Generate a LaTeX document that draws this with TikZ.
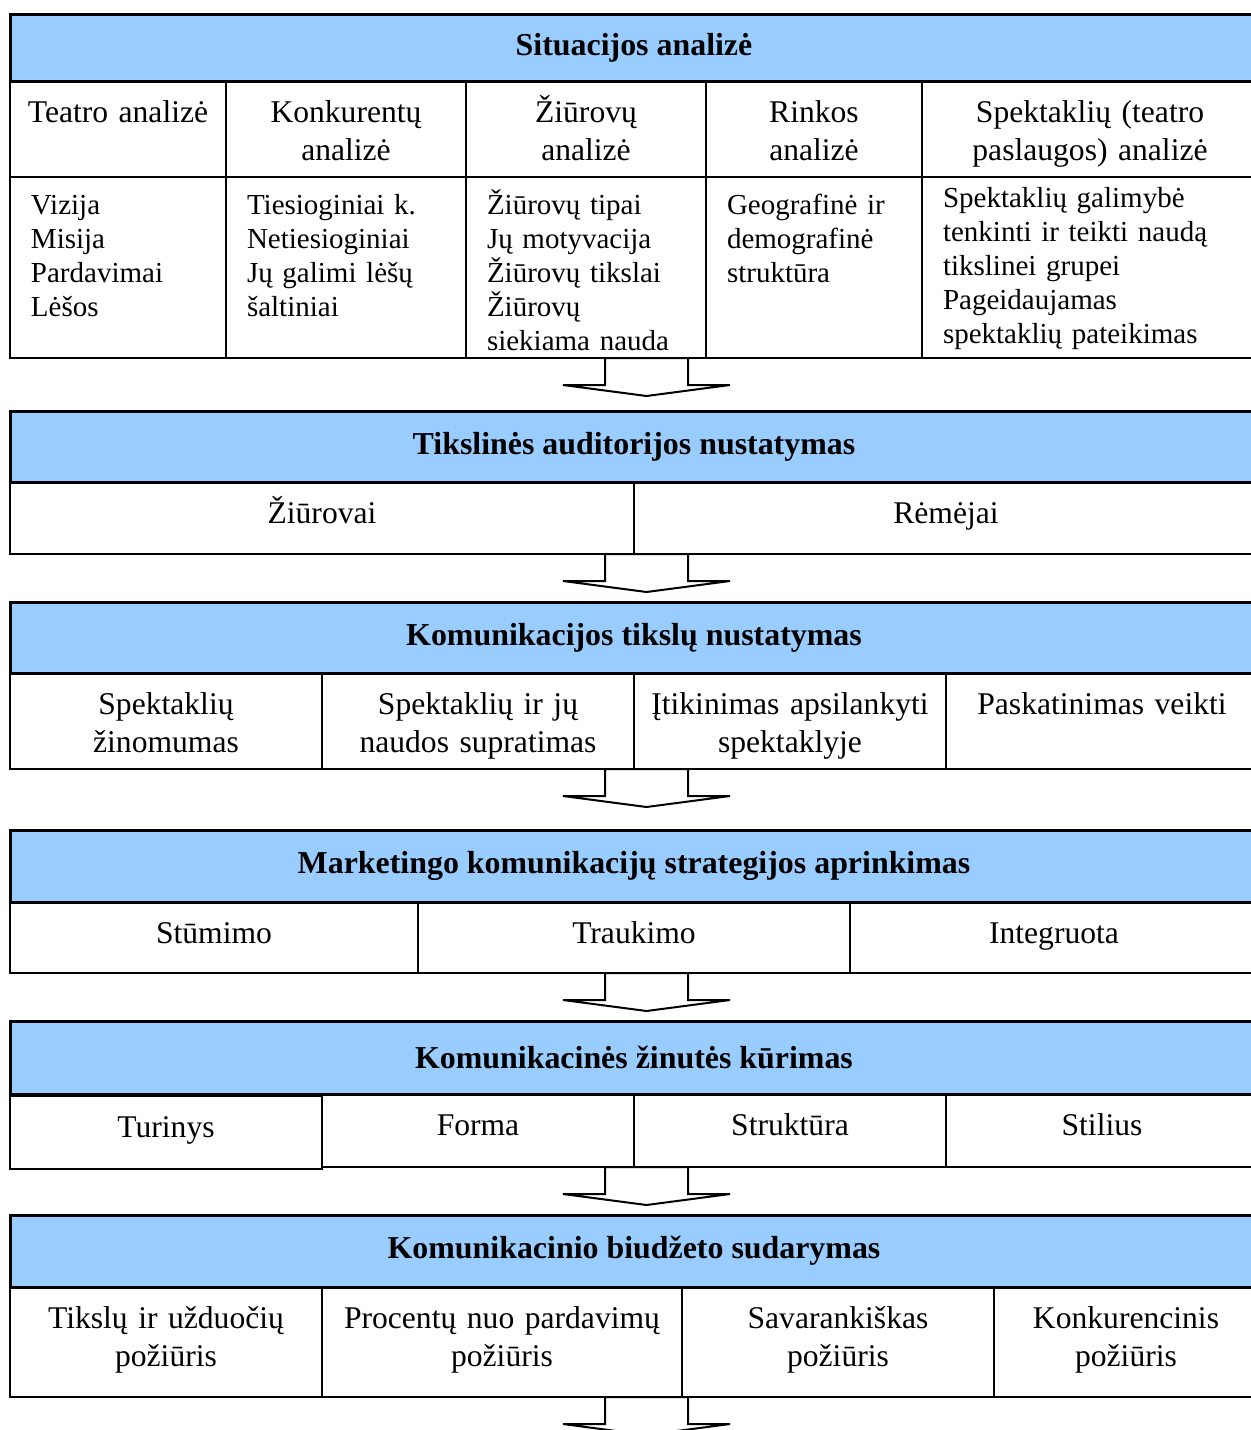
\documentclass[tikz,border=0pt]{standalone}
\usepackage{fontspec}
\setmainfont{Liberation Serif}
\usetikzlibrary{positioning}
\definecolor{headblue}{RGB}{153,204,255}

\begin{document}
\begin{tikzpicture}[
		x=0.5pt, y=-0.5pt,
		head/.style={draw, line width=1.5pt, fill=headblue, outer sep=0pt, inner sep=0pt, anchor=north west, minimum width=624pt, font=\bfseries\fontsize{15.95}{18}\selectfont},
		cell/.style={draw, line width=0.9pt, outer sep=0pt, inner sep=0pt, anchor=north west},
		sub/.style={anchor=base, yshift=-20.5pt, inner sep=0pt, text width=180pt, align=center, font=\fontsize{15.8}{19}\selectfont},
		lst/.style={anchor=base, yshift=-18.5pt, inner sep=0pt, align=left, font=\fontsize{14.5}{17}\selectfont},
		arrowshape/.style={draw, line width=1pt, line join=miter},
		blockarrow/.pic={
			\draw[arrowshape] (0,0) -- (-41.5,0) -- (-41.5,27) -- (-83.5,27) -- (0,38) -- (83.5,27) -- (41.5,27) -- (41.5,0) -- cycle;
		},
	]
	\useasboundingbox (0,0) rectangle (1250,1430);
	\coordinate (mid) at (646.5,0);

	% situacijos analize
	\node[head, minimum height=33.5pt] (situacija) at (10,14) {Situacijos analizė};
	\node[cell, minimum width=108pt, minimum height=48pt, label={[sub]north:Teatro analizė}] (teatras) at (situacija.south west) {};
	\node[cell, minimum width=120pt, minimum height=48pt, right=0pt of teatras, label={[sub]north:Konkurentų\\analizė}] (konkurentai) {};
	\node[cell, minimum width=120pt, minimum height=48pt, right=0pt of konkurentai, label={[sub]north:Žiūrovų\\analizė}] (ziurovai) {};
	\node[cell, minimum width=108pt, minimum height=48pt, right=0pt of ziurovai, label={[sub]north:Rinkos\\analizė}] (rinka) {};
	\node[cell, minimum width=168pt, minimum height=48pt, right=0pt of rinka, label={[sub]north:Spektaklių (teatro\\paslaugos) analizė}] (spektakliai) {};

	\node[cell, minimum width=108pt, minimum height=90.5pt, below=0pt of teatras, label={[lst, text width=87pt]north:Vizija\\Misija\\Pardavimai\\Lėšos}] (teatrasSar) {};
	\node[cell, minimum width=120pt, minimum height=90.5pt, below=0pt of konkurentai, label={[lst, text width=99pt]north:Tiesioginiai k.\\Netiesioginiai\\Jų galimi lėšų\\šaltiniai}] (konkurentaiSar) {};
	\node[cell, minimum width=120pt, minimum height=90.5pt, below=0pt of ziurovai, label={[lst, text width=99pt]north:Žiūrovų tipai\\Jų motyvacija\\Žiūrovų tikslai\\Žiūrovų\\siekiama nauda}] (ziurovaiSar) {};
	\node[cell, minimum width=108pt, minimum height=90.5pt, below=0pt of rinka, label={[lst, text width=87pt]north:Geografinė ir\\demografinė\\struktūra}] (rinkaSar) {};
	\node[cell, minimum width=168pt, minimum height=90.5pt, below=0pt of spektakliai, label={[lst, text width=147pt, yshift=3.5pt]north:Spektaklių galimybė\\tenkinti ir teikti naudą\\tikslinei grupei\\Pageidaujamas\\spektaklių pateikimas}] (spektakliaiSar) {};
	\pic at (mid |- ziurovaiSar.south) {blockarrow};

	% tiksline auditorija
	\node[head, minimum height=35.5pt] (auditorija) at (10,411) {Tikslinės auditorijos nustatymas};
	\node[cell, minimum width=312pt, minimum height=36pt, label={[sub]north:Žiūrovai}] (ziurovaiAud) at (auditorija.south west) {};
	\node[cell, minimum width=312pt, minimum height=36pt, right=0pt of ziurovaiAud, label={[sub]north:Rėmėjai}] (remejai) {};
	\pic at (mid |- ziurovaiAud.south) {blockarrow};

	% komunikacijos tikslai
	\node[head, minimum height=35.5pt] (tikslai) at (10,602) {Komunikacijos tikslų nustatymas};
	\node[cell, minimum width=156pt, minimum height=48pt, label={[sub]north:Spektaklių\\žinomumas}] (zinomumas) at (tikslai.south west) {};
	\node[cell, minimum width=156pt, minimum height=48pt, right=0pt of zinomumas, label={[sub]north:Spektaklių ir jų\\naudos supratimas}] (supratimas) {};
	\node[cell, minimum width=156pt, minimum height=48pt, right=0pt of supratimas, label={[sub]north:Įtikinimas apsilankyti\\spektaklyje}] (itikinimas) {};
	\node[cell, minimum width=156pt, minimum height=48pt, right=0pt of itikinimas, label={[sub]north:Paskatinimas veikti}] (paskatinimas) {};
	\pic at (mid |- zinomumas.south) {blockarrow};

	% strategija
	\node[head, minimum height=36pt] (strategija) at (10,830) {Marketingo komunikacijų strategijos aprinkimas};
	\node[cell, minimum width=204pt, minimum height=35.5pt, label={[sub]north:Stūmimo}] (stumimo) at (strategija.south west) {};
	\node[cell, minimum width=216pt, minimum height=35.5pt, right=0pt of stumimo, label={[sub]north:Traukimo}] (traukimo) {};
	\node[cell, minimum width=204pt, minimum height=35.5pt, right=0pt of traukimo, label={[sub]north:Integruota}] (integruota) {};
	\pic at (mid |- stumimo.south) {blockarrow};

	% zinute
	\node[head, minimum height=36.5pt] (zinute) at (10,1021) {Komunikacinės žinutės kūrimas};
	\node[cell, minimum width=156pt, minimum height=36.5pt, label={[sub]north:Turinys}] (turinys) at ([yshift=-1pt]zinute.south west) {};
	\node[cell, minimum width=156pt, minimum height=36.5pt, label={[sub]north:Forma}] (forma) at (zinute.south west -| turinys.east) {};
	\node[cell, minimum width=156pt, minimum height=36.5pt, right=0pt of forma, label={[sub]north:Struktūra}] (struktura) {};
	\node[cell, minimum width=156pt, minimum height=36.5pt, right=0pt of struktura, label={[sub]north:Stilius}] (stilius) {};
	\pic at (mid |- forma.south) {blockarrow};

	% biudzetas
	\node[head, minimum height=36pt] (biudzetas) at (10,1215) {Komunikacinio biudžeto sudarymas};
	\node[cell, minimum width=156pt, minimum height=55pt, label={[sub]north:Tikslų ir užduočių\\požiūris}] (uzduotys) at (biudzetas.south west) {};
	\node[cell, minimum width=180pt, minimum height=55pt, right=0pt of uzduotys, label={[sub]north:Procentų nuo pardavimų\\požiūris}] (procentai) {};
	\node[cell, minimum width=156pt, minimum height=55pt, right=0pt of procentai, label={[sub]north:Savarankiškas\\požiūris}] (savarankiskas) {};
	\node[cell, minimum width=132pt, minimum height=55pt, right=0pt of savarankiskas, label={[sub]north:Konkurencinis\\požiūris}] (konkurencinis) {};
	\pic at (mid |- procentai.south) {blockarrow};
\end{tikzpicture}
\end{document}
